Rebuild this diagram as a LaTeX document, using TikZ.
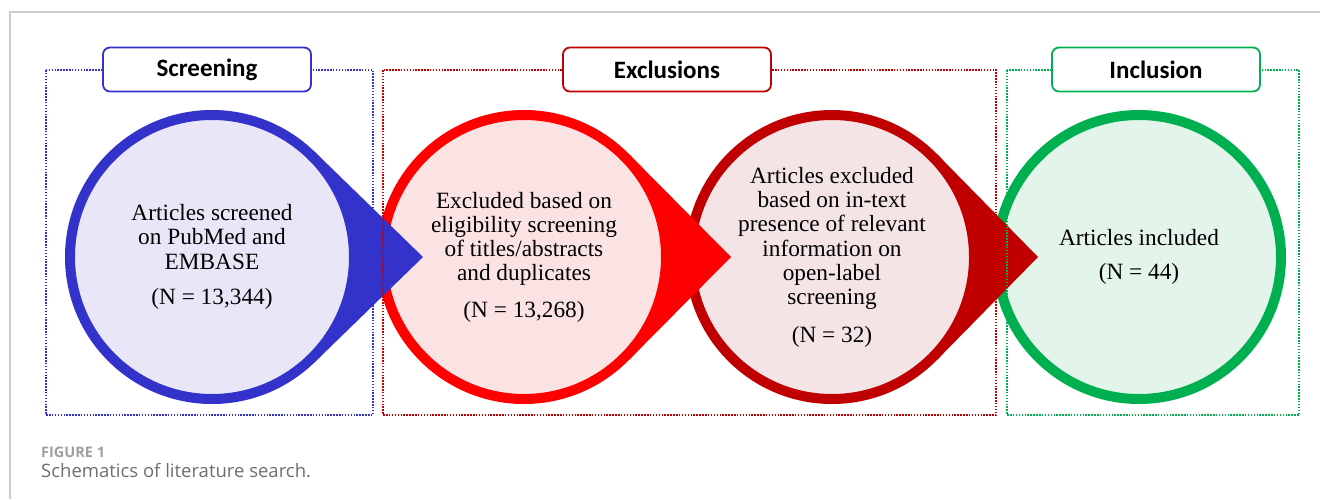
\documentclass[tikz,border=0pt]{standalone}
\usepackage{fontspec}
\setmainfont{Liberation Serif}
\newfontfamily\phasefont{Carlito}
\newfontfamily\capfont{Open Sans}
\usetikzlibrary{calc}

\definecolor{scrblue}{HTML}{3333CC}
\definecolor{scrfill}{HTML}{E9E7F7}
\definecolor{excred}{HTML}{FF0000}
\definecolor{excfill}{HTML}{FCE3E3}
\definecolor{excdark}{HTML}{C00000}
\definecolor{darkfill}{HTML}{F5E4E6}
\definecolor{incgreen}{HTML}{00B050}
\definecolor{incfill}{HTML}{E3F4EA}
\definecolor{capgray}{HTML}{6E6E6E}

\begin{document}
\begin{tikzpicture}[x=1pt, y=-1pt,
  stage/.style={circle, draw=#1, line width=10pt, minimum size=284pt,
    inner sep=0pt, align=center, font=\fontsize{23.3}{24.3}\selectfont},
  phase/.style={draw=#1, line width=1.8pt, rounded corners=7pt, fill=white,
    minimum width=208pt, minimum height=44pt, inner sep=0pt,
    font=\phasefont\bfseries\fontsize{25}{30}\selectfont},
  frame/.style={draw=#1, line width=1.8pt, dash pattern=on 1.5pt off 1.4pt}]
  \useasboundingbox (0,0) rectangle (1320,499);

  % outer page frame
  \draw[gray!40, line width=1.2pt] (10,499) -- (10,12) -- (1320,12);

  % circle centres and tips
  \coordinate (c1) at (212,257);
  \coordinate (c2) at (524,257);
  \coordinate (c3) at (832,257);
  \coordinate (c4) at (1139,257);
  \coordinate (t1) at (423,257);
  \coordinate (t2) at (731,257);
  \coordinate (t3) at (1038,257);

  % ===== Inclusion =====
  \node[stage=incgreen, fill=incfill] (inccirc) at (c4)
    {Articles included\\[9pt] (N = 44)};

  % ===== Exclusions (second) =====
  \fill[excdark] ($(c3)+({acos(147/206)}:147)$) -- (t3)
    -- ($(c3)+({-acos(147/206)}:147)$) -- cycle;
  \node[stage=excdark, fill=darkfill] (excb) at (c3)
    {Articles excluded\\ based on in-text\\ presence of relevant\\
     information on\\ open-label\\ screening\\[13pt] (N = 32)};

  % ===== Exclusions (first) =====
  \fill[excred] ($(c2)+({acos(147/207)}:147)$) -- (t2)
    -- ($(c2)+({-acos(147/207)}:147)$) -- cycle;
  \node[stage=excred, fill=excfill] (exca) at (c2)
    {Excluded based on\\ eligibility screening\\ of titles/abstracts\\
     and duplicates\\[12pt] (N = 13,268)};

  % ===== Screening =====
  \fill[scrblue] ($(c1)+({acos(147/211)}:147)$) -- (t1)
    -- ($(c1)+({-acos(147/211)}:147)$) -- cycle;
  \node[stage=scrblue, fill=scrfill] (scr) at (c1)
    {Articles screened\\ on PubMed and\\ EMBASE\\[11pt] (N = 13,344)};

  % dotted groups
  \draw[frame=scrblue] (46,70) rectangle (373,415);
  \draw[frame=excdark] (383,70) rectangle (996,415);
  \draw[frame=incgreen] (1007,70) rectangle (1299,415);

  % group titles
  \node[phase=scrblue] (scrlabel) at (207,69.5) {Screening};
  \node[phase=excdark] (exclabel) at (667,69.5) {Exclusions};
  \node[phase=incgreen] (inclabel) at (1156,69.5) {Inclusion};

  % caption
  \node[anchor=base west, inner sep=0pt, text=gray!75,
    font=\capfont\bfseries\fontsize{14.5}{16}\selectfont] (capnum) at (41,457) {FIGURE 1};
  \node[anchor=base west, inner sep=0pt, text=capgray,
    font=\capfont\fontsize{18.5}{22}\selectfont] (captext) at (41,477)
    {Schematics of literature search.};
\end{tikzpicture}
\end{document}
